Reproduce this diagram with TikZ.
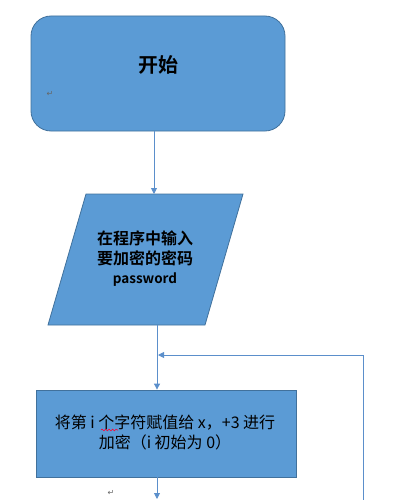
\documentclass[tikz,border=0pt]{standalone}
\usepackage{fontspec}
\setmainfont{Noto Sans CJK SC}[BoldFont={* Bold}]
\newfontfamily\symfont{DejaVu Sans}
\usetikzlibrary{arrows.meta,decorations.pathmorphing}
\definecolor{boxfill}{HTML}{5B9BD5}
\definecolor{boxline}{HTML}{41719C}
\definecolor{conn}{HTML}{5B8FCB}
\tikzset{
  blockbox/.style={draw=boxline, fill=boxfill, line width=0.8pt, inner sep=0pt},
  arr/.style={draw=conn, line width=0.9pt, -{Triangle[width=6pt,length=6pt]}},
  pmark/.style={font=\symfont\fontsize{8}{8}\selectfont, text=gray!80!black, inner sep=0pt},
}
\begin{document}
\begin{tikzpicture}[x=1pt, y=-1pt]
\useasboundingbox (0,0) rectangle (411,500);
% start box
\node[blockbox, rounded corners=20pt, minimum width=254pt, minimum height=115pt] (start) at (158,73.5) {};
\node[font=\bfseries\fontsize{20}{20}\selectfont, inner sep=0pt] (starttext) at (158,65) {开始};
\node[pmark] (pm1) at (50,94) {↵};
% input parallelogram
\path[blockbox] (86,194) -- (243,194) -- (205,325) -- (48,325) -- cycle;
\coordinate (inTop) at (154,194);
\coordinate (inBot) at (157,325);
\node[font=\bfseries\fontsize{16}{20}\selectfont, align=center, inner sep=0pt] (input) at (145,248)
  {在程序中输入\\要加密的密码};
\node[font=\bfseries\fontsize{13.5}{14}\selectfont, inner sep=0pt] (pw) at (145,280) {password};
% encrypt box
\node[blockbox, minimum width=260pt, minimum height=87pt] (enc) at (166,433.5) {};
\node[font=\fontsize{16}{20}\selectfont, align=center, inner sep=0pt] (enctext) at (165,432)
  {将第 i 个字符赋值给 x，+3 进行\\加密（i 初始为 0）};
\draw[red!80!magenta, line width=0.6pt, decorate, decoration={snake, segment length=3.5pt, amplitude=0.8pt}] (101,430) -- (118,430);
% connectors
\draw[arr] ([xshift=-4pt]start.south) -- (inTop);
\draw[arr] (inBot) -- (inBot |- enc.north);
\coordinate (loopBot) at (363,500);
\coordinate (join) at (158,355);
\draw[arr] (loopBot) |- (join);
\coordinate (next) at (157,499);
\draw[arr] (enc.south -| next) -- (next);
\node[pmark] (pm2) at (111,493) {↵};
\end{tikzpicture}
\end{document}
